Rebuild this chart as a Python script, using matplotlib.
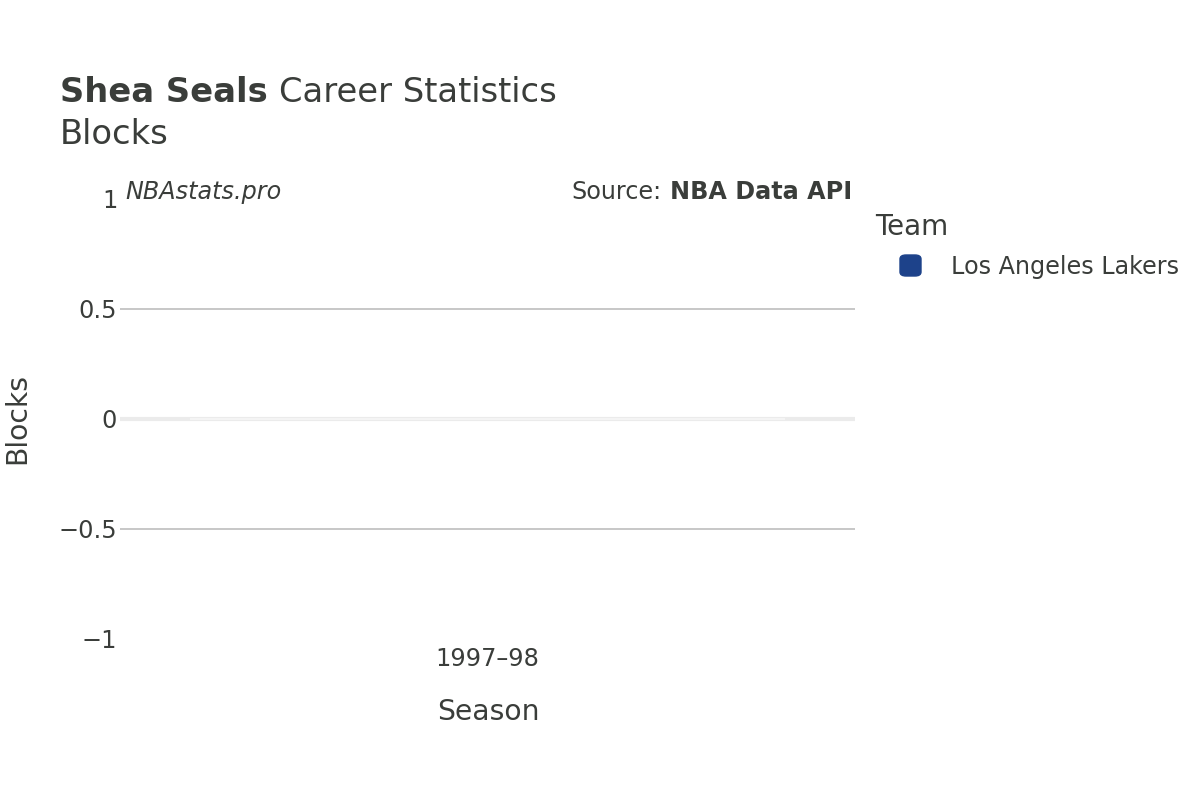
import matplotlib
matplotlib.use("Agg")
import matplotlib.pyplot as plt
from matplotlib.patches import FancyBboxPatch

seasons = ["1997–98"]
blocks = [0]
team = "Los Angeles Lakers"
team_color = "#1d428a"
yticks = [-1, -0.5, 0, 0.5, 1]
ytick_labels = ["−1", "−0.5", "0", "0.5", "1"]

plt.rcParams['font.family'] = ['DejaVu Sans']
txt = "#3a3d3a"
W, H = 1200, 800

fig = plt.figure(figsize=(12, 8), dpi=100)
ax = fig.add_axes([120/W, 1-639/H, 735/W, 440/H])

x = list(range(len(seasons)))
ax.axhline(0, color="#ebebeb", lw=3, zorder=1)
for v in [-0.5, 0.5]:
    ax.axhline(v, color="#bdbdbd", lw=1.2, zorder=1)
ax.bar(x, blocks, width=0.81, color=team_color, edgecolor="#f7f7f7", linewidth=1.2, zorder=2)

ax.set_xlim(-0.5, len(seasons)-0.5)
ax.set_ylim(-1, 1)
ax.set_yticks(yticks)
ax.set_yticklabels(ytick_labels)
ax.set_xticks(x)
ax.set_xticklabels(seasons)
ax.tick_params(axis='both', length=0, labelsize=17.3, labelcolor=txt)
ax.tick_params(axis='y', pad=2)
ax.tick_params(axis='x', pad=6)
for s in ax.spines.values():
    s.set_visible(False)

ax.set_xlabel("Season", fontsize=20.3, color=txt)
ax.xaxis.set_label_coords((488-120)/735, -(712-639)/440)
ax.xaxis.label.set_va('center')
ax.set_ylabel("Blocks", fontsize=20.3, color=txt)
ax.yaxis.set_label_coords((17-120)/735, 0.5)
ax.yaxis.label.set_va('center')

t1 = fig.text(60/W, 1-89/H, "Shea Seals", fontsize=24.3, color=txt, va='baseline', ha='left', fontweight='bold')
t1.set_y(1-102/H)
fig.canvas.draw()
bb = t1.get_window_extent()
fig.text(bb.x1/W + 11/W, 1-102/H, "Career Statistics", fontsize=24.3, color=txt, va='baseline', ha='left')
fig.text(60/W, 1-144/H, "Blocks", fontsize=24.3, color=txt, va='baseline', ha='left')

fig.text(125/W, 1-192/H, "NBAstats.pro", fontsize=17.2, color=txt, va='center', ha='left', style='italic')
s2 = fig.text(852/W, 1-192/H, "NBA Data API", fontsize=17.2, color=txt, va='center', ha='right', fontweight='bold')
fig.canvas.draw()
bb2 = s2.get_window_extent()
fig.text(bb2.x0/W - 8/W, 1-192/H, "Source:", fontsize=17.2, color=txt, va='center', ha='right')

# legend
fig.text(875/W, 1-227/H, "Team", fontsize=20, color=txt, va='center', ha='left')
fig.patches.append(FancyBboxPatch((900/W, 1-276/H), 21/W, 21/H,
                                  boxstyle="round,pad=0,rounding_size=0.005",
                                  transform=fig.transFigure, facecolor=team_color,
                                  edgecolor=team_color, figure=fig))
fig.text(951/W, 1-267/H, team, fontsize=17.2, color=txt, va='center', ha='left')

fig.savefig("out.png", dpi=100)
